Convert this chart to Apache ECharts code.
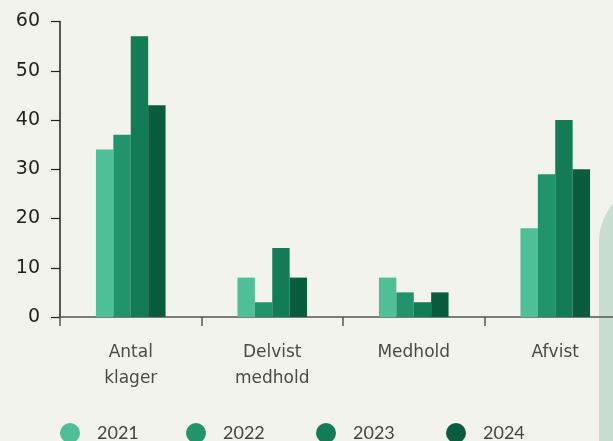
<!DOCTYPE html>
<html><head><meta charset="utf-8">
<script src="https://cdn.jsdelivr.net/npm/echarts@6/dist/echarts.min.js"></script>
<style>html,body{margin:0;padding:0;background:#f3f3ee;}#c{width:613px;height:441px;}</style>
</head><body><div id="c"></div>
<script>
var categories = ["Antal\nklager", "Delvist\nmedhold", "Medhold", "Afvist"];
var years = ["2021", "2022", "2023", "2024"];
var v2021 = [34, 8, 8, 18];
var v2022 = [37, 3, 5, 29];
var v2023 = [57, 14, 3, 40];
var v2024 = [43, 8, 5, 30];
var yTicks = [0, 10, 20, 30, 40, 50, 60];
var colors = ["#4fbf98", "#22946c", "#117c56", "#0a5c3e"];
var values = [v2021, v2022, v2023, v2024];
var chart = echarts.init(document.getElementById('c'));
var font = "'DejaVu Sans', sans-serif";
var legendLefts = [55, 181, 311, 441];
chart.setOption({
  backgroundColor: '#f3f3ee',
  animation: false,
  graphic: [{
    type: 'rect', z: 0,
    shape: {x: 599, y: 182, width: 80, height: 300, r: [60, 0, 0, 0]},
    style: {fill: '#c9ddd0'}
  }],
  grid: {left: 60, top: 21.5, bottom: 124, width: 566, outerBoundsMode: 'none', containLabel: false},
  legend: years.map(function (y, i) {
    return {
      data: [y], left: legendLefts[i], top: 418, icon: 'circle', itemWidth: 20, itemHeight: 20,
      textStyle: {fontFamily: "Lato, sans-serif", fontSize: 18, color: '#444', padding: [0, 0, 0, 12]}
    };
  }),
  xAxis: {
    type: 'category', data: categories,
    axisLine: {lineStyle: {color: '#555', width: 1.5}},
    axisTick: {show: true, length: 9, lineStyle: {color: '#555', width: 1.5}},
    axisLabel: {fontFamily: font, fontSize: 17, color: '#4a4a4a', lineHeight: 26, margin: 23}
  },
  yAxis: {
    type: 'value', min: 0, max: 60, interval: 10,
    splitLine: {show: false},
    axisLine: {show: true, lineStyle: {color: '#222', width: 1.5}},
    axisTick: {show: true, length: 9, lineStyle: {color: '#222', width: 1.2}},
    axisLabel: {fontFamily: font, fontSize: 19, color: '#222', margin: 20,
      formatter: function (v) { return yTicks.indexOf(v) >= 0 ? String(v) : ''; }}
  },
  series: years.map(function (y, i) {
    return {name: y, type: 'bar', data: values[i], barWidth: 17.4, barGap: '0%',
      itemStyle: {color: colors[i]}, z: 2};
  })
});
</script></body></html>
